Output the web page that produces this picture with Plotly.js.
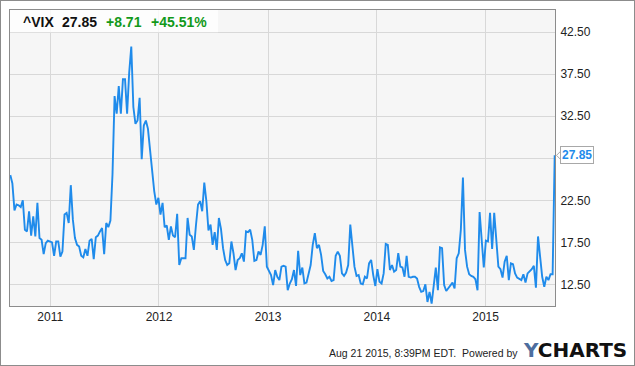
<!DOCTYPE html>
<html>
<head>
<meta charset="utf-8">
<script src="https://cdn.plot.ly/plotly-3.0.1.min.js"></script>
<style>
  html, body { margin: 0; padding: 0; background: #fff; }
  #chart { width: 633px; height: 364px; border: 1px solid #8c8c8c; }
</style>
</head>
<body>
<div id="chart"></div>
<script>
// Weekly closes of ^VIX, first week ending 2010-08-20
const START_DATE = '2010-08-20';
const VIX_WEEKLY = [
  25.5, 24.5, 21.3, 22.0, 21.9, 21.7, 22.5, 19.0, 18.8, 21.2,
  18.3, 20.6, 18.2, 22.2, 18.0, 17.8, 16.1, 17.4, 17.7, 17.6,
  17.5, 15.9, 17.6, 17.6, 15.8, 16.4, 20.8, 21.0, 19.8, 24.3,
  20.2, 18.0, 17.2, 17.0, 15.9, 15.7, 16.7, 15.9, 17.7, 17.9,
  15.5, 18.1, 18.3, 18.8, 19.2, 16.1, 19.8, 19.3, 20.1, 25.6,
  34.9, 32.8, 36.1, 32.8, 36.9, 36.9, 32.8, 37.7, 40.8, 33.6,
  31.6, 32.0, 34.7, 27.4, 31.4, 32.0, 31.0, 28.5, 25.7, 23.6,
  22.0, 22.8, 20.8, 22.2, 19.3, 19.5, 17.8, 19.4, 18.3, 18.1,
  20.9, 14.8, 15.6, 15.6, 15.6, 20.4, 18.4, 18.2, 16.6, 19.5,
  22.0, 22.4, 21.2, 24.6, 22.4, 18.9, 19.6, 17.2, 18.7, 16.6,
  20.4, 19.1, 16.8, 15.4, 14.8, 15.0, 17.6, 16.2, 14.2, 15.4,
  15.6, 16.2, 15.2, 18.8, 18.7, 19.0, 17.8, 15.3, 15.4, 16.4,
  16.0, 17.2, 19.4, 14.6, 14.0, 13.6, 12.4, 14.2, 13.4, 13.0,
  14.6, 14.7, 14.6, 11.8, 12.6, 13.1, 14.2, 12.3, 16.5, 13.6,
  14.5, 12.6, 12.7, 13.6, 14.8, 17.2, 18.6, 16.8, 17.2, 16.0,
  14.1, 13.7, 13.2, 13.4, 12.9, 13.0, 15.9, 16.4, 15.9, 13.8,
  13.5, 13.9, 14.8, 19.6, 16.8, 14.6, 13.5, 13.6, 12.6, 12.5,
  13.4, 13.2, 15.0, 15.4, 13.6, 12.3, 14.3, 12.8, 12.6, 13.8,
  17.3, 17.2, 14.2, 14.8, 14.0, 14.2, 16.2, 14.6, 14.5, 13.4,
  15.9, 13.4, 13.3, 13.4, 13.4, 13.2, 12.2, 11.6, 11.7, 12.5,
  10.4, 11.6, 10.2, 12.2, 14.5, 11.8, 16.9, 16.8, 12.4, 11.7,
  12.0, 12.4, 12.7, 12.0, 15.6, 16.2, 19.0, 25.2, 16.6, 14.6,
  13.7, 13.5, 13.4, 13.1, 11.8, 21.1, 17.2, 14.5, 17.7, 17.6,
  21.0, 16.7, 21.0, 17.6, 14.6, 14.3, 13.3, 15.2, 15.9, 13.0,
  15.0, 14.9, 13.8, 13.3, 13.1, 13.0, 13.7, 12.7, 13.8, 14.0,
  14.3, 14.7, 12.1, 18.2, 15.9, 13.4, 12.2, 13.4, 13.0, 13.7,
  13.7, 27.85
];
const LAST_VALUE = 27.85;
const HEADER = ['^VIX', '27.85', '+8.71', '+45.51%'];
const Y_TICKS = [12.5, 17.5, 22.5, 27.5, 32.5, 37.5, 42.5];
const Y_TICK_TEXT = ['12.50', '17.50', '22.50', '', '32.50', '37.50', '42.50'];
const FOOTER = 'Aug 21 2015, 8:39PM EDT.&nbsp;&nbsp;Powered by';

const DAY = 86400000;
const t0 = Date.parse(START_DATE + 'T00:00:00Z');
const dates = VIX_WEEKLY.map((_, i) => new Date(t0 + i * 7 * DAY).toISOString().slice(0, 10));

const BLUE = '#1f8beb';
const GREEN = '#12991a';
const FONT = 'Liberation Sans, Arial, sans-serif';

const trace = {
  x: dates, y: VIX_WEEKLY, type: 'scatter', mode: 'lines',
  line: { color: BLUE, width: 1.9 }, hoverinfo: 'skip'
};

// plot area spans page x 10..555, y 10..306
const px = v => (v - 10) / 545;
const py = v => 1 - (v - 10) / 296;

const annotations = [
  { text: '<b>' + HEADER[0] + '</b>', x: px(20.5), color: '#111' },
  { text: '<b>' + HEADER[1] + '</b>', x: px(59.5), color: '#111' },
  { text: '<b>' + HEADER[2] + '</b>', x: px(103.8), color: GREEN },
  { text: '<b>' + HEADER[3] + '</b>', x: px(148.5), color: GREEN }
].map(a => ({
  xref: 'paper', yref: 'paper', x: a.x, y: py(22.3), xanchor: 'left', yanchor: 'middle',
  text: a.text, showarrow: false, font: { family: FONT, size: 14, color: a.color }
}));

annotations.push({
  xref: 'paper', yref: 'y', x: 1, y: LAST_VALUE, xanchor: 'left', yanchor: 'middle', xshift: 5,
  text: '<b>' + LAST_VALUE.toFixed(2) + '</b>', showarrow: false,
  font: { family: FONT, size: 12, color: BLUE },
  bgcolor: '#ffffff', bordercolor: '#a8a8a8', borderwidth: 1, borderpad: 1
});

annotations.push({
  xref: 'paper', yref: 'paper', x: px(520), y: py(352.5), xanchor: 'right', yanchor: 'middle',
  text: FOOTER, showarrow: false, font: { family: FONT, size: 10.5, color: '#222' }
});
annotations.push({
  xref: 'paper', yref: 'paper', x: px(521), y: py(350), xanchor: 'left', yanchor: 'middle',
  text: '<b><span style="color:#4d6e9e">Y</span>CHARTS</b>', showarrow: false,
  font: { family: 'DejaVu Sans, sans-serif', size: 20, color: '#111' }
});

const layout = {
  width: 633, height: 364,
  margin: { l: 9, r: 79, t: 9, b: 59, pad: 0 },
  paper_bgcolor: '#ffffff', plot_bgcolor: '#f6f6f6',
  showlegend: false,
  font: { family: FONT, size: 12, color: '#222' },
  xaxis: {
    type: 'date', range: ['2010-08-19', '2015-08-22'],
    tick0: '2011-01-01', dtick: 'M12', tickformat: '%Y',
    showgrid: true, gridcolor: '#d8d8d8', gridwidth: 1,
    showline: true, linecolor: '#8c8c8c', linewidth: 1, mirror: true,
    ticks: '', zeroline: false,
    tickfont: { family: FONT, size: 12, color: '#222' }
  },
  yaxis: {
    side: 'right', range: [9.92, 45.15],
    tickmode: 'array', tickvals: Y_TICKS, ticktext: Y_TICK_TEXT,
    showgrid: true, gridcolor: '#d8d8d8', gridwidth: 1,
    showline: true, linecolor: '#8c8c8c', linewidth: 1, mirror: true,
    ticks: 'outside', ticklen: 2, tickcolor: 'rgba(0,0,0,0)', zeroline: false,
    tickfont: { family: FONT, size: 12, color: '#222' }
  },
  shapes: [
    { type: 'rect', xref: 'paper', yref: 'paper', x0: 0, x1: px(218), y0: py(32.3), y1: 1,
      fillcolor: 'rgba(255,255,255,0.8)', line: { width: 0 }, layer: 'above' },
    { type: 'path', xref: 'paper', yref: 'y', xsizemode: 'pixel', ysizemode: 'pixel',
      xanchor: 1, yanchor: LAST_VALUE, path: 'M 6.5,5 L 1.5,0 L 6.5,-5 Z',
      fillcolor: '#ffffff', line: { color: '#a8a8a8', width: 1 }, layer: 'above' }
  ],
  annotations: annotations
};

Plotly.newPlot('chart', [trace], layout, { staticPlot: true, displayModeBar: false });
</script>
</body>
</html>
